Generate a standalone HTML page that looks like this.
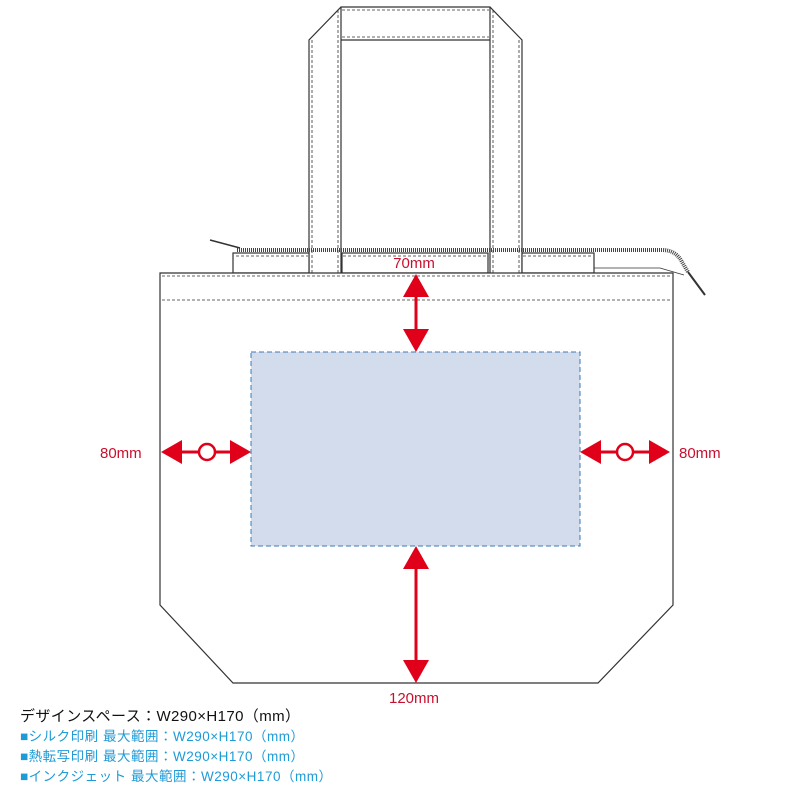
<!DOCTYPE html><html><head><meta charset="utf-8"><style>body{margin:0;background:#fff}svg{display:block}</style></head><body>
<svg width="800" height="800" viewBox="0 0 800 800" xmlns="http://www.w3.org/2000/svg" font-family="Liberation Sans, Noto Sans CJK JP, sans-serif">
<g fill="none" stroke="#333" stroke-width="1.2">
<path d="M309 273 V40 L341 7 H490 L522 40 V273" fill="#fff"/>
<path d="M341 7 V273 M490 7 V273 M341 40 H490"/>
<path d="M342 10 H489 M342 37 H489 M312 40 V273 M338 10 V273 M493 10 V273 M519 40 V273" stroke-dasharray="3,2" stroke-width="0.8"/>
<path d="M237 250 H662 Q676 250 682 262 L688 272" stroke="#444" stroke-width="4" stroke-dasharray="1,1"/>
<path d="M210 240 L240 248" stroke-width="1.5"/>
<path d="M688 272 L705 295" stroke-width="2"/>
<rect x="233" y="253" width="76" height="20" fill="#fff"/>
<rect x="342" y="253" width="146" height="20" fill="#fff"/>
<rect x="522" y="253" width="72" height="20" fill="#fff"/>
<path d="M594 268 H660 L684 275" stroke-width="0.8"/>
<path d="M236 256 H308 M343 256 H487 M523 256 H592" stroke-dasharray="3,2" stroke-width="0.8"/>
<path d="M160 273 H673 V605 L598 683 H233 L160 605 Z" fill="#fff"/>
<path d="M162 276 H671 M162 300 H671" stroke-dasharray="3,2" stroke-width="0.8"/>
</g>
<rect x="251" y="352" width="329" height="194" fill="#d3dcec" stroke="#3a78b8" stroke-width="1" stroke-dasharray="5,3"/>
<g fill="#e0001a" stroke="#e0001a">
<line x1="416" y1="290" x2="416" y2="336" stroke-width="3"/>
<path d="M416 274 L403 297 H429 Z" stroke="none"/>
<path d="M416 352 L403 329 H429 Z" stroke="none"/>
<line x1="416" y1="563" x2="416" y2="667" stroke-width="3"/>
<path d="M416 546 L403 569 H429 Z" stroke="none"/>
<path d="M416 683 L403 660 H429 Z" stroke="none"/>
<line x1="175" y1="452" x2="237" y2="452" stroke-width="3"/>
<path d="M161 452 L182 440 V464 Z" stroke="none"/>
<path d="M251 452 L230 440 V464 Z" stroke="none"/>
<circle cx="207" cy="452" r="8" fill="#fff" stroke-width="2.5"/>
<line x1="594" y1="452" x2="656" y2="452" stroke-width="3"/>
<path d="M580 452 L601 440 V464 Z" stroke="none"/>
<path d="M670 452 L649 440 V464 Z" stroke="none"/>
<circle cx="625" cy="452" r="8" fill="#fff" stroke-width="2.5"/>
</g>
<g fill="#c8102e" font-size="15">
<text x="414" y="268" text-anchor="middle">70mm</text>
<text x="100" y="458">80mm</text>
<text x="679" y="458">80mm</text>
<text x="414" y="703" text-anchor="middle">120mm</text>
</g>
<text x="20" y="721" font-size="15" fill="#111" textLength="280">デザインスペース：W290×H170（mm）</text>
<g font-size="13.5" fill="#1e9bd7">
<text x="20" y="741" textLength="284">■シルク印刷 最大範囲：W290×H170（mm）</text>
<text x="20" y="761" textLength="284">■熱転写印刷 最大範囲：W290×H170（mm）</text>
<text x="20" y="781" textLength="312">■インクジェット 最大範囲：W290×H170（mm）</text>
</g>
</svg>
</body></html>
